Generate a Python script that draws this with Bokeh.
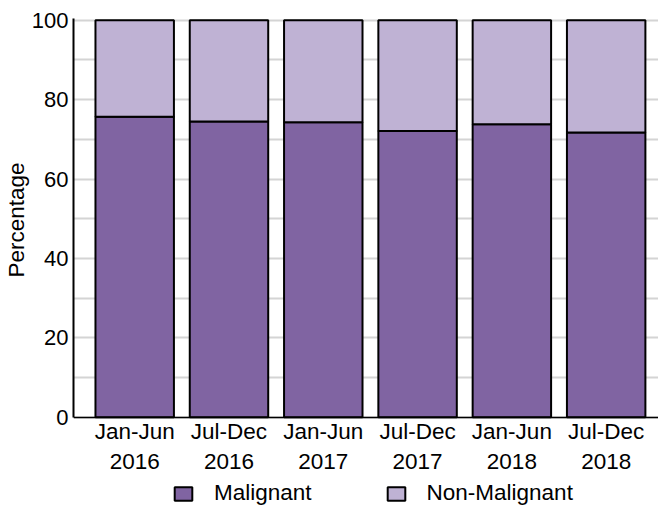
from bokeh.plotting import figure
from bokeh.models import (FixedTicker, SingleIntervalTicker, Range1d, Legend,
                          LegendItem, ColumnDataSource, Title)
from bokeh.embed import file_html
from bokeh.resources import INLINE

periods = ["Jan-Jun\n2016", "Jul-Dec\n2016", "Jan-Jun\n2017",
           "Jul-Dec\n2017", "Jan-Jun\n2018", "Jul-Dec\n2018"]
malignant = [75.7, 74.5, 74.3, 72.1, 73.8, 71.7]
non_malignant = [100 - v for v in malignant]
y_ticks = [0, 20, 40, 60, 80, 100]

FONT = "Liberation Sans"
FS = "22.5px"
FS_Y = "22px"
DARK = "#8064A2"
LIGHT = "#BFB2D4"

xs = list(range(len(periods)))
src = ColumnDataSource(dict(x=xs, mal=malignant, non=non_malignant,
                            total=[m + n for m, n in zip(malignant, non_malignant)]))

Y0, Y1 = -22.49, 100.43
p = figure(width=658, height=506, output_backend="svg", toolbar_location=None,
           x_range=Range1d(-0.649, 5.555), y_range=Range1d(Y0, Y1),
           min_border_left=73, min_border_right=0, min_border_top=18,
           min_border_bottom=0)
p.outline_line_color = None
p.background_fill_color = "white"
p.border_fill_color = "white"

r1 = p.vbar(x="x", bottom=0, top="mal", width=0.832, source=src,
            fill_color=DARK, line_color="black", line_width=2)
r2 = p.vbar(x="x", bottom="mal", top="total", width=0.832, source=src,
            fill_color=LIGHT, line_color="black", line_width=2)

# grid
p.xgrid.visible = False
p.ygrid.ticker = SingleIntervalTicker(interval=10)
p.ygrid.bounds = (0, 100)
p.ygrid.grid_line_color = "#d4d4d4"
p.ygrid.grid_line_width = 2

# y axis
p.yaxis.ticker = FixedTicker(ticks=y_ticks)
p.yaxis.bounds = (0, Y1)
p.yaxis.major_tick_line_color = None
p.yaxis.minor_tick_line_color = None
p.yaxis.major_tick_out = 0
p.yaxis.major_tick_in = 0
p.yaxis.major_label_standoff = 5
p.yaxis.major_label_text_font = FONT
p.yaxis.major_label_text_font_size = FS_Y
p.yaxis.major_label_text_color = "black"
p.yaxis.axis_line_color = "black"
p.yaxis.axis_line_width = 2

# y axis title, centred on the 0-100 span
ytitle = Title(text="Percentage", align="left", offset=229, standoff=0,
               text_font=FONT, text_font_size=FS, text_font_style="normal",
               text_color="black")
p.add_layout(ytitle, "left")

# x axis (drawn at y = 0 inside the frame)
p.xaxis.fixed_location = 0
p.xaxis.ticker = FixedTicker(ticks=xs)
p.xaxis.major_label_overrides = {i: lab for i, lab in zip(xs, periods)}
p.xaxis.major_tick_line_color = None
p.xaxis.minor_tick_line_color = None
p.xaxis.major_tick_out = 0
p.xaxis.major_tick_in = 0
p.xaxis.major_label_standoff = 2
p.xaxis.major_label_text_font = FONT
p.xaxis.major_label_text_font_size = FS
p.xaxis.major_label_text_color = "black"
p.xaxis.axis_line_color = "black"
p.xaxis.axis_line_width = 1.5

legend = Legend(items=[LegendItem(label="Malignant", renderers=[r1]),
                       LegendItem(label="Non-Malignant", renderers=[r2])],
                location=(99, 0), orientation="horizontal",
                glyph_width=22, glyph_height=17, label_standoff=20, spacing=73,
                padding=0, margin=0, border_line_color=None,
                background_fill_alpha=0,
                label_text_font=FONT, label_text_font_size=FS,
                label_text_color="black")
p.add_layout(legend, "center")

open("out.html", "w").write(file_html(p, INLINE))
